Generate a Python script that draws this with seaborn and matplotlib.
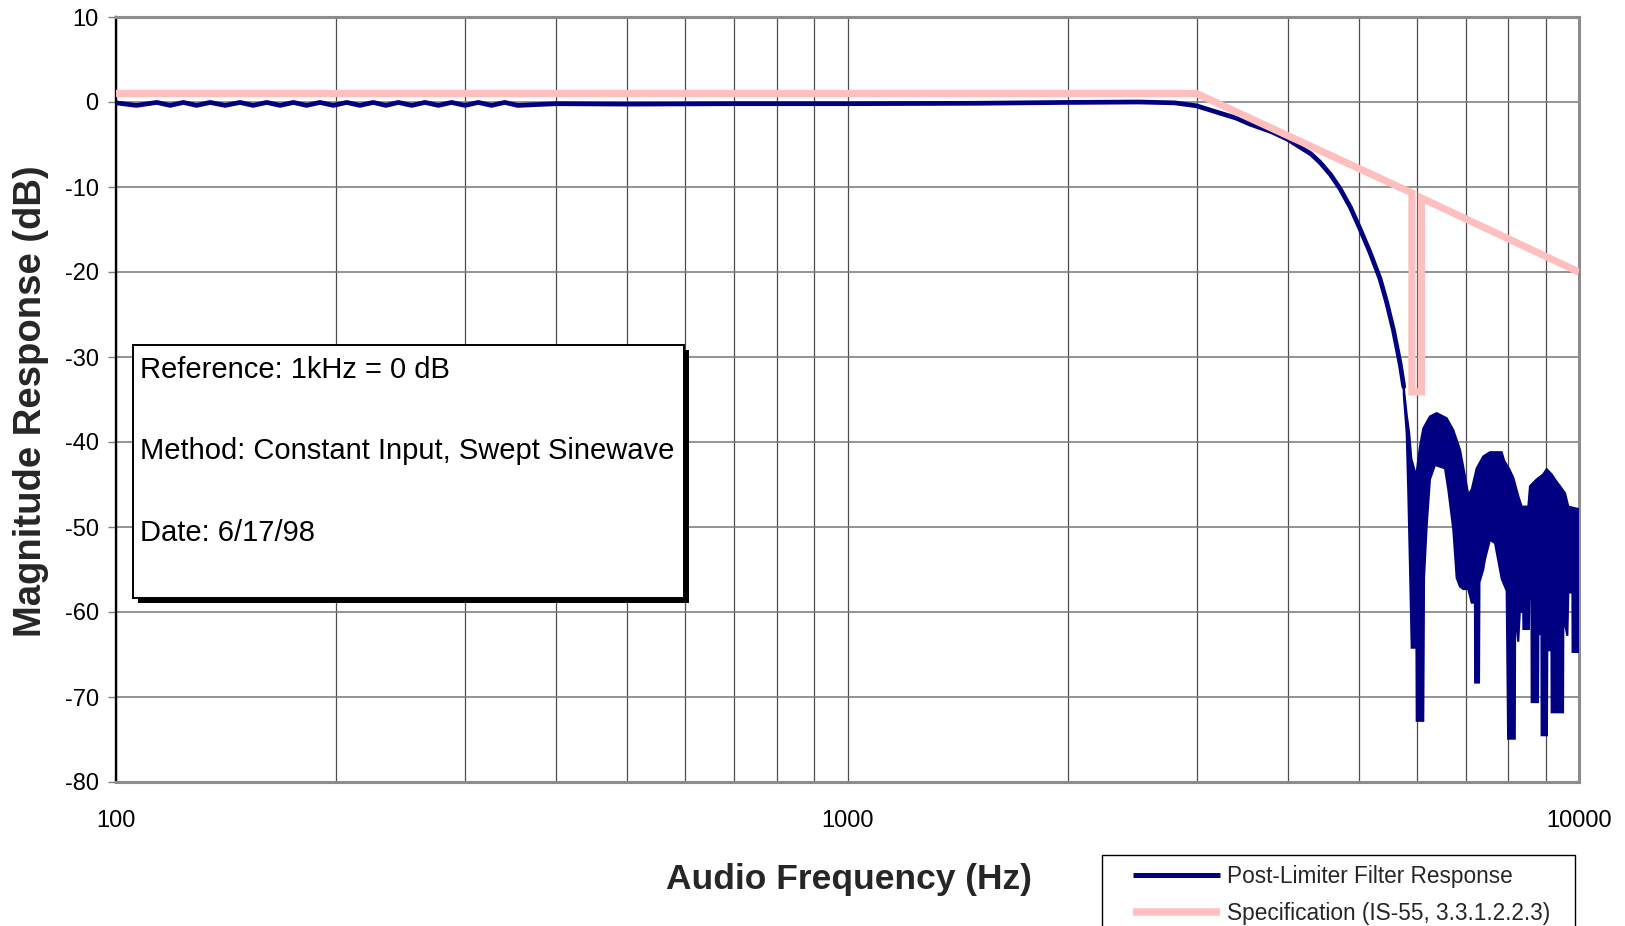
import numpy as np
import pandas as pd
import matplotlib
matplotlib.use("Agg")
import matplotlib.pyplot as plt
from matplotlib.patches import Rectangle
from matplotlib.lines import Line2D
from matplotlib.ticker import NullFormatter
import seaborn as sns

# ---- measured response: single trace (passband + transition) ----
resp_freq = [100, 106.6, 113.7, 118.6, 123.6, 128.9, 134.5, 141.0, 147.7, 154.0,
             160.7, 167.6, 174.8, 182.2, 190.0, 198.2, 206.7, 215.5, 224.7, 233.8,
             243.2, 253.6, 264.5, 275.8, 287.6, 300.0, 312.8, 326.0, 340.0, 354.0,
             400, 500, 700, 1000, 1500, 2000, 2500, 2800, 3000, 3200,
             3400, 3550, 3800, 4000, 4155, 4300, 4425, 4570, 4714, 4870,
             5018, 5180, 5346, 5460, 5575, 5650, 5700, 5760]
resp_db = [-0.1, -0.4, -0.05, -0.4, -0.05, -0.4, -0.05, -0.4, -0.05, -0.4,
           -0.05, -0.4, -0.05, -0.4, -0.05, -0.4, -0.05, -0.4, -0.05, -0.4,
           -0.05, -0.4, -0.05, -0.4, -0.05, -0.4, -0.05, -0.4, -0.05, -0.4,
           -0.2, -0.25, -0.2, -0.2, -0.15, -0.05, 0.0, -0.1, -0.45, -1.2,
           -1.9, -2.6, -3.5, -4.4, -5.3, -6.1, -7.1, -8.5, -10.2, -12.4,
           -14.9, -17.7, -20.8, -23.6, -26.8, -29.3, -31.0, -33.5]

# ---- stopband: swept response spans between an upper and lower envelope ----
band_upper_freq = [5760, 5814, 5860, 5900, 5990, 6062, 6125, 6255, 6389, 6593,
                   6732, 6875, 6984, 7057, 7133, 7246, 7398, 7556, 7840, 7901,
                   8030, 8132, 8263, 8349, 8526, 8570, 8752, 8936, 9031, 9175,
                   9271, 9419, 9568, 9670, 10000]
band_upper_db = [-33.6, -36.8, -39.0, -42.0, -44.0, -40.5, -38.4, -37.0, -36.6, -37.2,
                 -38.6, -40.9, -44.0, -46.2, -45.6, -43.1, -41.7, -41.2, -41.2, -42.2,
                 -43.2, -44.2, -46.4, -47.6, -47.6, -45.2, -44.4, -43.8, -43.2, -43.8,
                 -44.4, -45.2, -46.0, -47.6, -47.9]
band_lower_freq = [5760, 5814, 5843, 5875, 5906, 5995, 6000, 6125, 6140, 6191,
                   6255, 6355, 6558, 6627, 6732, 6804, 6875, 6947, 7057, 7133,
                   7207, 7210, 7300, 7310, 7398, 7438, 7556, 7677, 7840, 7964,
                   8000, 8170, 8180, 8260, 8300, 8390, 8395, 8540, 8550, 8610,
                   8616, 8790, 8800, 8885, 8890, 9040, 9050, 9170, 9175, 9510,
                   9520, 9640, 9670, 9795, 9800, 9975, 9980, 10000]
band_lower_db = [-34.4, -39.0, -46.0, -55.0, -64.2, -64.2, -72.8, -72.8, -56.0, -49.9,
                 -44.4, -42.7, -43.1, -45.6, -50.3, -56.0, -57.0, -57.3, -57.3, -58.9,
                 -58.9, -68.3, -68.3, -56.5, -55.0, -53.8, -51.5, -51.9, -56.1, -57.5,
                 -74.9, -74.9, -60.0, -63.5, -60.0, -60.0, -62.0, -62.0, -58.5, -58.5,
                 -70.6, -70.6, -62.6, -62.6, -74.5, -74.5, -64.5, -64.5, -71.8, -71.8,
                 -60.5, -62.8, -57.7, -57.7, -64.7, -64.7, -57.7, -57.7]

# ---- specification mask (IS-55, 3.3.1.2.2.3) ----
spec_freq = [100, 3000, 5910, 5910, 6090, 6090, 10000]
spec_db = [1.0, 1.0, -10.7, -34.1, -34.1, -11.3, -20.0]

x_ticks = [100, 1000, 10000]
x_tick_labels = ["100", "1000", "10000"]
x_minor = [200, 300, 400, 500, 600, 700, 800, 900,
           2000, 3000, 4000, 5000, 6000, 7000, 8000, 9000]
y_ticks = [10, 0, -10, -20, -30, -40, -50, -60, -70, -80]

notes = ["Reference: 1kHz = 0 dB",
         "Method: Constant Input, Swept Sinewave",
         "Date: 6/17/98"]
legend_labels = ["Post-Limiter Filter Response", "Specification (IS-55, 3.3.1.2.2.3)"]

NAVY = "#000080"
PINK = "#FFBFBF"

sns.set_theme(style="white")
plt.rcParams["font.family"] = ["Liberation Sans", "DejaVu Sans"]

W, H = 1625, 926
fig = plt.figure(figsize=(W / 100, H / 100), dpi=100)
fig.patch.set_facecolor("white")
ax = fig.add_axes([116 / W, 1 - 782 / H, (1579 - 116) / W, (782 - 17) / H])
ax.set_facecolor("white")

resp = pd.DataFrame({"freq": resp_freq, "db": resp_db})
spec = pd.DataFrame({"freq": spec_freq, "db": spec_db})

sns.lineplot(data=resp, x="freq", y="db", ax=ax, color=NAVY, lw=3.4,
             estimator=None, sort=False, legend=False, zorder=3)
ax.lines[-1].set_solid_joinstyle("round")
band_x = np.r_[band_upper_freq, band_lower_freq[::-1]]
band_y = np.r_[band_upper_db, band_lower_db[::-1]]
ax.fill(band_x, band_y, facecolor=NAVY, edgecolor=NAVY, lw=1.5, zorder=3)
sns.lineplot(data=spec, x="freq", y="db", ax=ax, color=PINK, lw=5.2,
             estimator=None, sort=False, legend=False, zorder=4)
ax.lines[-1].set_solid_joinstyle("miter")
ax.lines[-1].set_solid_capstyle("butt")

ax.set_xscale("log")
ax.set_xlim(100, 10000)
ax.set_ylim(-80, 10)
ax.set_xticks(x_ticks)
ax.set_xticklabels(x_tick_labels)
ax.set_xticks(x_minor, minor=True)
ax.xaxis.set_minor_formatter(NullFormatter())
ax.set_yticks(y_ticks)
ax.set_yticklabels([str(v) for v in y_ticks])

ax.tick_params(axis="x", which="both", length=0, pad=20, labelsize=17, colors="black")
ax.tick_params(axis="y", which="major", length=6, width=1.0, direction="out",
               color="#808080", pad=6.5, labelsize=17, labelcolor="black", left=True)

ax.grid(True, axis="x", which="both", color="#4d4d4d", lw=0.9)
ax.grid(True, axis="y", which="major", color="#777777", lw=1.1)
ax.set_axisbelow(True)

for side in ["top", "right", "bottom"]:
    ax.spines[side].set_color("#8c8c8c")
    ax.spines[side].set_linewidth(2.2)
ax.spines["left"].set_color("black")
ax.spines["left"].set_linewidth(1.7)

ax.set_xlabel("Audio Frequency (Hz)", fontsize=25.5, fontweight="bold", va="center")
ax.xaxis.set_label_coords((849 - 116) / 1463, (782 - 880) / 765)
ax.set_ylabel("Magnitude Response (dB)", fontsize=27.5, fontweight="bold", va="center")
ax.yaxis.set_label_coords((31 - 116) / 1463, (782 - 401) / 765)

# annotation box with drop shadow
bx0, by0, bx1, by1 = 133, 345, 684, 598
ax.add_patch(Rectangle(((bx0 + 5) / W, 1 - (by1 + 5) / H), (bx1 - bx0) / W, (by1 - by0) / H,
                       transform=fig.transFigure, facecolor="black", edgecolor="none",
                       zorder=6, clip_on=False))
ax.add_patch(Rectangle((bx0 / W, 1 - by1 / H), (bx1 - bx0) / W, (by1 - by0) / H,
                       transform=fig.transFigure, facecolor="white", edgecolor="black",
                       lw=1.4, zorder=7, clip_on=False))
for txt, yy in zip(notes, [370, 451, 533]):
    ax.text(140 / W, 1 - yy / H, txt, transform=fig.transFigure, fontsize=21,
            ha="left", va="center", color="black", zorder=8)

# legend frame (runs off the bottom edge) and entries
fig.add_artist(Rectangle((1102 / W, 1 - 940 / H), (1575 - 1102) / W, (940 - 855) / H,
                         transform=fig.transFigure, facecolor="white", edgecolor="black",
                         lw=1.0))
handles = [Line2D([], [], color=NAVY, lw=3.6, solid_capstyle="butt"),
           Line2D([], [], color=PINK, lw=5.4, solid_capstyle="butt")]
fig.legend(handles=handles, labels=legend_labels, loc="upper left",
           bbox_to_anchor=(1133 / W, 1 - 865 / H), bbox_transform=fig.transFigure,
           frameon=False, handlelength=3.85, handletextpad=0.3, borderpad=0,
           borderaxespad=0, labelspacing=0.62, fontsize=16.3)

fig.savefig("out.png", dpi=100, facecolor="white")
